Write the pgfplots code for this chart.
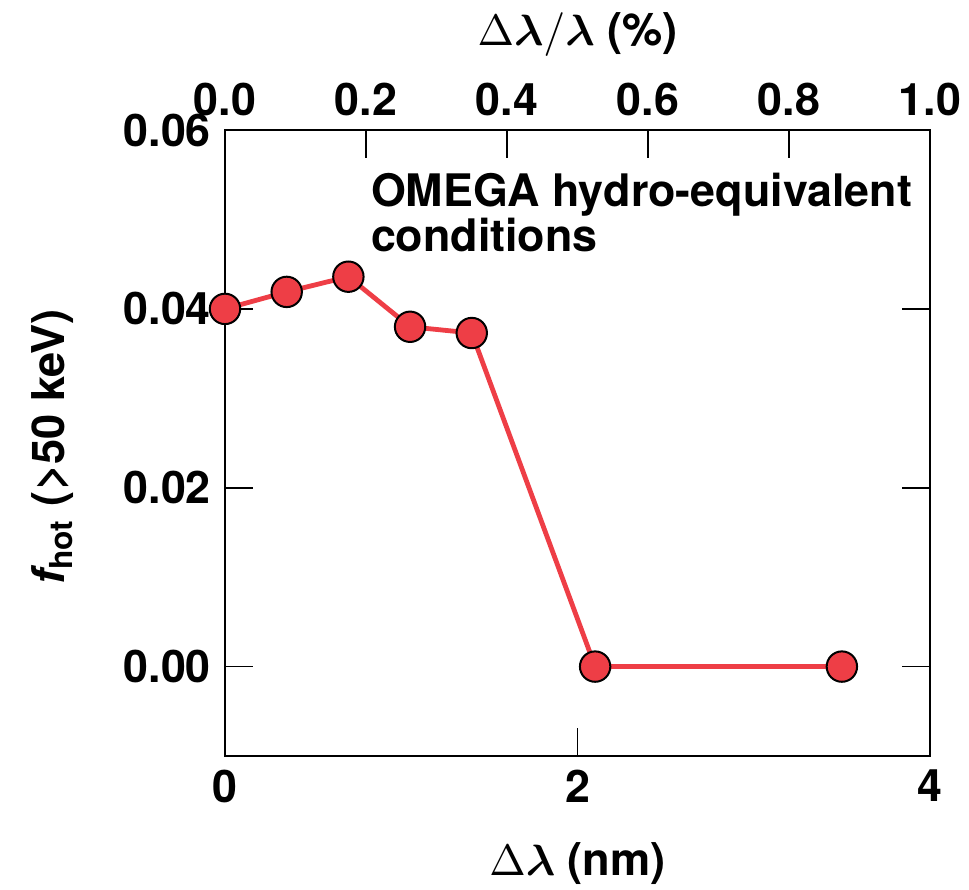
\documentclass[border=0pt]{standalone}
\usepackage{amsmath}
\usepackage{fontspec}
\setmainfont{TeX Gyre Heros}
\usepackage{pgfplots}
\pgfplotsset{compat=1.18}
\definecolor{myred}{RGB}{238,62,70}
\newcommand{\tickfont}{\fontsize{11.2}{12}\selectfont\bfseries}
\newcommand{\txtfont}{\fontsize{11.2}{11.4}\selectfont\bfseries}
\newcommand{\labfont}{\fontsize{11.3}{13}\selectfont\bfseries}
\begin{document}
\begin{tikzpicture}
\begin{axis}[
 at={(0,0)}, anchor=south west, scale only axis,
 width=176.25pt, height=156.5pt,
 xmin=0, xmax=4, ymin=-0.01, ymax=0.06,
 xtick={0,2,4}, xtick pos=bottom,
 ytick={0,0.02,0.04,0.06}, ytick pos=both, yticklabel pos=left,
 tick align=inside, major tick length=7pt,
 tick style={line width=0.45pt, black},
 axis line style={line width=0.6pt},
 ticklabel style={font=\tickfont},
 /pgf/number format/assume math mode=true,
 scaled y ticks=false,
 yticklabel style={/pgf/number format/.cd, fixed, fixed zerofill, precision=2},
 xlabel={$\Delta\boldsymbol{\lambda}$ (nm)},
 xlabel style={at={(axis description cs:0.5,-0.172)}, anchor=center, font=\labfont},
 ylabel={{\itshape f}\textsubscript{hot} (\textgreater50 keV)},
 ylabel style={at={(axis description cs:-0.245,0.494)}, anchor=center, font=\labfont},
 clip=false,
]
\addplot[myred, line width=1.2pt, mark=*, mark size=3.8pt,
  mark options={fill=myred, draw=black, line width=0.5pt}]
 coordinates {(0,0.0400) (0.35,0.0419) (0.70,0.0436) (1.05,0.0380) (1.40,0.0373) (2.10,0.0) (3.50,0.0)};
\end{axis}
\begin{axis}[
 at={(0,0)}, anchor=south west, scale only axis,
 width=176.25pt, height=156.5pt,
 xmin=0, xmax=1, ymin=0, ymax=1,
 axis x line*=top, axis y line=none,
 xtick={0,0.2,0.4,0.6,0.8,1.0},
 tick align=inside, major tick length=7pt,
 tick style={line width=0.45pt, black},
 axis line style={line width=0.6pt},
 ticklabel style={font=\tickfont},
 /pgf/number format/assume math mode=true,
 xticklabel style={/pgf/number format/.cd, fixed, fixed zerofill, precision=1},
 xlabel={$\Delta\boldsymbol{\lambda}/\boldsymbol{\lambda}$ (\%)},
 xlabel style={at={(axis description cs:0.5,1.152)}, anchor=center, font=\labfont},
]
\node[anchor=north west, align=left, inner sep=0pt, font=\txtfont]
  at (rel axis cs:0.206,0.933) {OMEGA hydro-equivalent\\conditions};
\end{axis}
\pgfresetboundingbox
\path[use as bounding box] (-56.25pt,-33.25pt) rectangle (186pt,189pt);
\end{tikzpicture}
\end{document}
